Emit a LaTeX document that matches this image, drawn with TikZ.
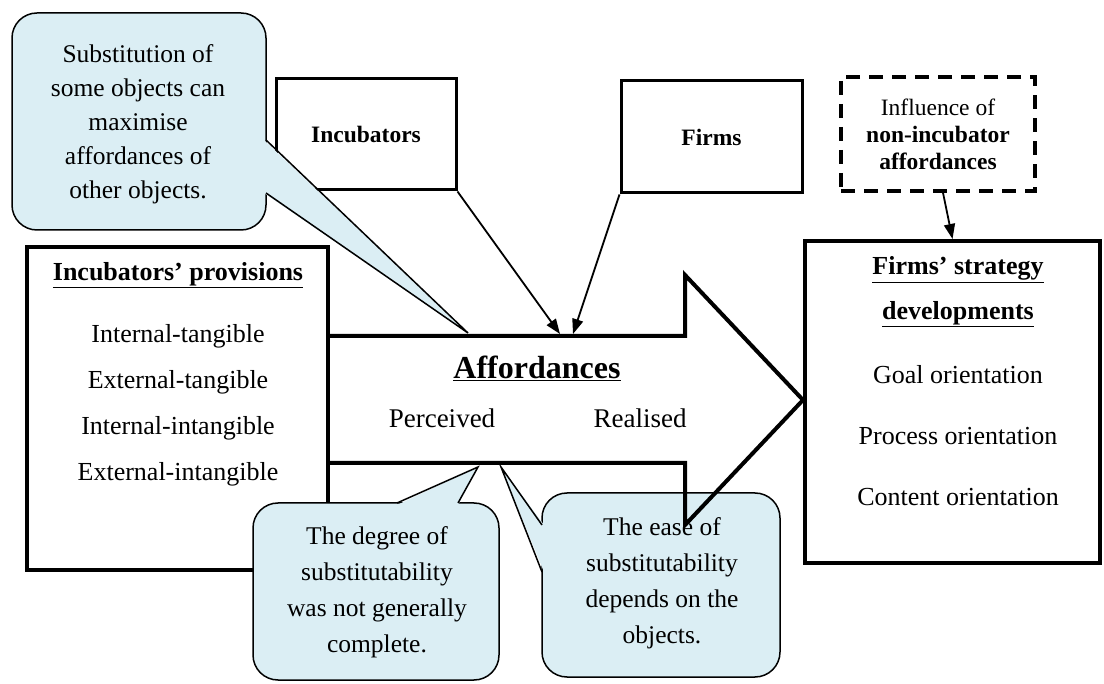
\documentclass[tikz,border=0pt]{standalone}
\usepackage{fontspec}
\setmainfont{Liberation Serif}
\usetikzlibrary{arrows.meta}
\definecolor{calloutfill}{HTML}{DBEEF4}
\begin{document}
\begin{tikzpicture}[x=1pt,y=-1pt,
  thickbox/.style={draw, line width=4pt, inner sep=0pt},
  midbox/.style={draw, line width=3pt, inner sep=0pt},
  dashbox/.style={draw, line width=3.5pt, dash pattern=on 14pt off 9pt, inner sep=0pt},
  bodytext/.style={font=\fontsize{25.5}{34}\selectfont, align=center},
  callout/.style={draw, line width=1.5pt, fill=calloutfill, rounded corners=25pt},
  pointerfill/.style={fill=calloutfill},
  pointerline/.style={draw, line width=1.5pt, line join=miter},
  link/.style={line width=1.8pt, -{Triangle[length=15pt,width=11pt]}},
  bigarrow/.style={draw, line width=4pt, line join=miter, miter limit=20},
]
\useasboundingbox (0,0) rectangle (1104,684);

% ---- boxes ----
\node[thickbox, minimum width=301pt, minimum height=323pt] (prov) at (177.5,408.5) {};
\node[midbox, minimum width=180pt, minimum height=111pt,
      font=\fontsize{23.5}{28}\selectfont\bfseries] (inc) at (366,134.5) {Incubators};
\node[midbox, minimum width=181pt, minimum height=112pt,
      font=\fontsize{23.5}{28}\selectfont\bfseries] (firms) at (711.5,137) {Firms};
\node[dashbox, minimum width=194pt, minimum height=114pt, align=center,
      font=\fontsize{23.5}{27}\selectfont] (infl) at (938,134)
      {Influence of\\\textbf{non-incubator}\\\textbf{affordances}};
\node[thickbox, minimum width=295pt, minimum height=322pt] (fsd) at (952.5,402) {};

% ---- callout: substitution ----
\coordinate (tipA) at (468,333);
\draw[callout] (12,13) rectangle (266,230);
\fill[pointerfill] (tipA) -- (264,140) -- (264,193) -- cycle;
\draw[pointerline] (266,140) -- (tipA) -- (266,193);
\node[bodytext] (subst) at (138,124)
  {Substitution of\\some objects can\\maximise\\affordances of\\other objects.};

% ---- connectors into the affordances arrow ----
\coordinate (affInc) at (560,334);
\coordinate (affFirm) at (573,334);
\draw[link] (inc.south east) -- (affInc);
\draw[link] (firms.south west) -- (affFirm);
\draw[link] ([xshift=5pt]infl.south) -- (fsd.north);

% ---- callout: degree ----
\coordinate (tipB) at (478,467);
\draw[callout] (253,503) rectangle (499,680);
\fill[pointerfill] (tipB) -- (458,505) -- (397,505) -- cycle;
\draw[pointerline] (458,503) -- (tipB) -- (397,503);
\node[bodytext, font=\fontsize{25.5}{36}\selectfont] (degree) at (377,592)
  {The degree of\\substitutability\\was not generally\\complete.};

% ---- callout: ease ----
\coordinate (tipC) at (501,467);
\draw[callout] (542,493) rectangle (780,677);
\fill[pointerfill] (tipC) -- (544,572) -- (544,525) -- cycle;
\draw[pointerline] (542,572) -- (tipC) -- (542,525);
\node[bodytext, font=\fontsize{25.5}{36}\selectfont] (ease) at (662,583)
  {The ease of\\substitutability\\depends on the\\objects.};

% ---- affordances arrow ----
\coordinate (aTL) at (328,336);
\coordinate (aBL) at (328,463);
\coordinate (aTS) at (685,336);
\coordinate (aBS) at (685,463);
\coordinate (aTH) at (685,275);
\coordinate (aBH) at (685,525);
\coordinate (aTip) at (803,400);
\draw[bigarrow] (aTL) -- (aTS) -- (aTH) -- (aTip) -- (aBH) -- (aBS) -- (aBL);

% ---- texts ----
\node[font=\fontsize{26}{30}\selectfont\bfseries] (provtitle) at (178,275)
  {\underline{Incubators’ provisions}};
\node[bodytext, font=\fontsize{26}{46}\selectfont] (provlist) at (178,405)
  {Internal-tangible\\External-tangible\\Internal-intangible\\External-intangible};

\node[font=\fontsize{32}{36}\selectfont\bfseries] (afftitle) at (537,368) {\underline{Affordances}};
\node[font=\fontsize{27}{30}\selectfont] (perc) at (442,418) {Perceived};
\node[font=\fontsize{27}{30}\selectfont] (real) at (640,418) {Realised};

\node[font=\fontsize{26}{45}\selectfont\bfseries, align=center] (fsdtitle) at (958,292)
  {\underline{Firms’ strategy}\\\underline{developments}};
\node[bodytext, font=\fontsize{26}{61}\selectfont] (fsdlist) at (958,436)
  {Goal orientation\\Process orientation\\Content orientation};
\end{tikzpicture}
\end{document}
